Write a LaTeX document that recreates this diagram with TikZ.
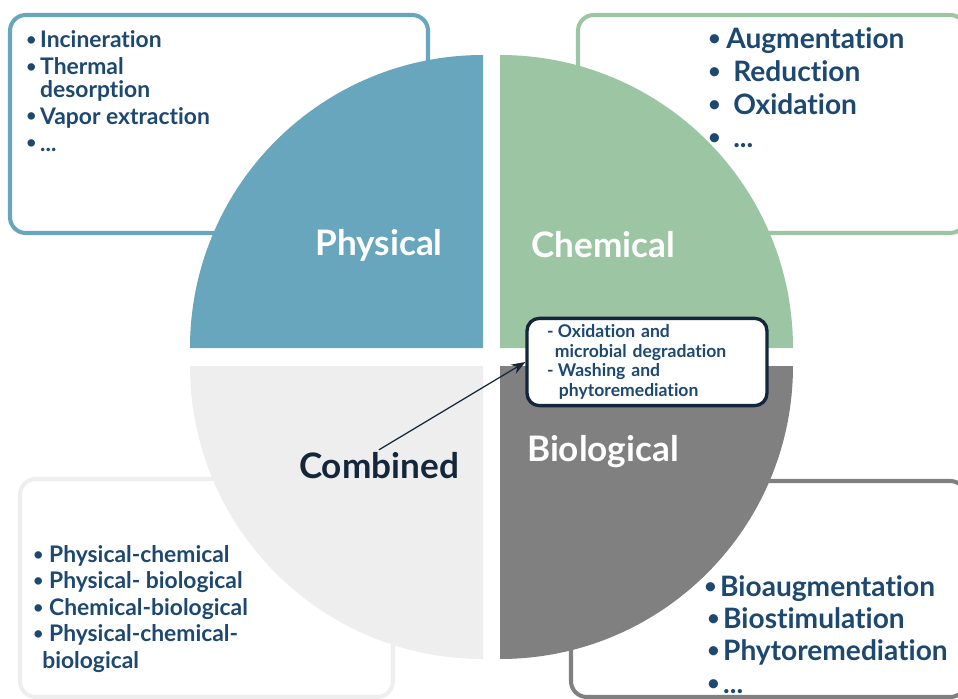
\documentclass[tikz,border=0pt]{standalone}
\usepackage{fontspec}
\setmainfont{Lato}[Ligatures={NoCommon,NoRare}]
\usepackage{tikz}
\usetikzlibrary{
  	positioning,
  	arrows.meta,
  	calc
  }
\definecolor{phys}{HTML}{67A6BD}
\definecolor{chem}{HTML}{9CC5A3}
\definecolor{comb}{HTML}{EEEEEE}
\definecolor{bio}{HTML}{808080}
\definecolor{navy}{HTML}{1D4870}
\definecolor{ink}{HTML}{13263A}
\tikzstyle{listbox}=[rounded corners=9pt,line width=2.3pt,fill=white]
\tikzstyle{items}=[anchor=base west,inner sep=0pt,align=left,text=navy]
\tikzstyle{biglabel}=[anchor=base,inner sep=1pt,font=\bfseries\fontsize{20}{20}\selectfont]
\tikzstyle{notebox}=[draw=ink,fill=white,line width=1.9pt,rounded corners=7pt,
  text width=4.0cm,inner xsep=0.4cm,minimum height=1.72cm,align=left,text=navy,
  font=\bfseries\fontsize{10}{11.3}\selectfont]
% small bullet, left in a box of given width
\newcommand{\bul}[1]{\makebox[#1][l]{\raisebox{0.1em}{\scalebox{0.75}{\textbullet}}}}

\begin{document}
\begin{tikzpicture}[x=0.02cm,y=0.02cm]
  \useasboundingbox (0,0) rectangle (958,698);
  % boxes behind the pie
  \draw[listbox,draw=phys] (10,465) rectangle (428,683);
  \draw[listbox,draw=chem] (578,465) rectangle (966,683);
  \draw[listbox,draw=comb] (20,1) rectangle (393,219);
  \draw[listbox,draw=bio] (571,1) rectangle (966,217);
  % the four quarters
  \fill[phys] (483,350) -- (190,350) arc[start angle=180,end angle=90,radius=293] -- cycle;
  \fill[chem] (500,350) -- (500,643) arc[start angle=90,end angle=0,radius=293] -- cycle;
  \fill[comb] (483,332) -- (483,39) arc[start angle=270,end angle=180,radius=293] -- cycle;
  \fill[bio] (500,332) -- (793,332) arc[start angle=0,end angle=-90,radius=293] -- cycle;
%
  \node[biglabel,text=white] (physical) at (379,443) {Physical};
  \node[biglabel,text=white] (chemical) at (603,441) {Chemical};
  \node[biglabel,text=ink] (combined) at (379,220) {Combined};
  \node[biglabel,text=white] (biological) at (603,237) {Biological};
%
  % lists: placed at the baseline of their last line
  \node[items,font=\bfseries\fontsize{13}{13}\selectfont] (physlist) at (26,547)
    {\bul{7.9pt}Incineration\\[2.3pt]
     \bul{7.9pt}Thermal\\
     \makebox[7.9pt]{}desorption\\[2.3pt]
     \bul{7.9pt}Vapor extraction\\[2.3pt]
     \bul{7.9pt}...};
  \node[items,font=\bfseries\fontsize{16}{18.7}\selectfont] (chemlist) at (708,551)
    {\bul{10.2pt}Augmentation\\
     \bul{14.2pt}Reduction\\
     \bul{14.2pt}Oxidation\\
     \bul{14.2pt}...};
  \node[items,font=\bfseries\fontsize{13}{15}\selectfont] (comblist) at (33,30)
    {\bul{9pt}Physical-chemical\\
     \bul{9pt}Physical- biological\\
     \bul{9pt}Chemical-biological\\
     \bul{9pt}Physical-chemical-\\
     \makebox[5.1pt]{}biological};
  \node[items,font=\bfseries\fontsize{16}{18.4}\selectfont] (biolist) at (704,5)
    {\bul{9pt}Bioaugmentation\\
     \hspace*{1.7pt}\bul{9pt}Biostimulation\\
     \hspace*{1.7pt}\bul{9pt}Phytoremediation\\
     \hspace*{1.7pt}\bul{9pt}...};
%
  \node[notebox] (note) at (647,336)
    {\makebox[6.2pt][l]{-}Oxidation and\\
     \hspace*{4.5pt}microbial degradation\\
     \makebox[6.2pt][l]{-}Washing and\\
     \hspace*{6.8pt}phytoremediation};
  \draw[-{Stealth[length=8pt,width=6pt]},line width=0.7pt,ink] (combined.north) -- (note.west);
\end{tikzpicture}
\end{document}
